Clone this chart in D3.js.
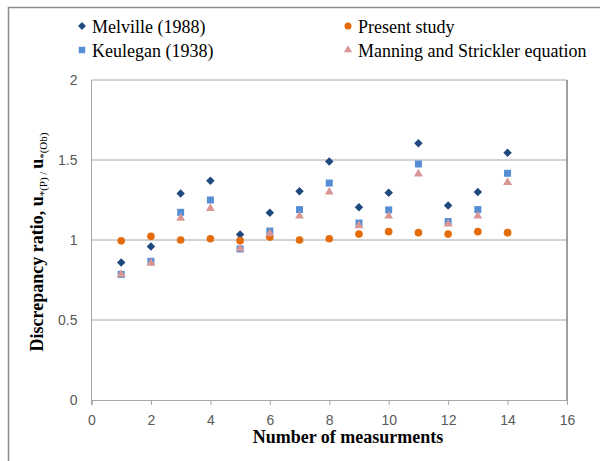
<!DOCTYPE html>
<html>
<head>
<meta charset="utf-8">
<script src="https://cdn.jsdelivr.net/npm/d3@7"></script>
<style>
  body { margin: 0; background: #fff; }
  svg { display: block; }
</style>
</head>
<body>
<svg id="chart" width="600" height="461"></svg>
<script>
// measurement numbers
const measurements = [1, 2, 3, 4, 5, 6, 7, 8, 9, 10, 11, 12, 13, 14];

// discrepancy ratios
const melville  = [0.86, 0.96, 1.29, 1.37, 1.035, 1.17, 1.305, 1.49, 1.205, 1.295, 1.605, 1.215, 1.30, 1.545];
const present   = [0.995, 1.023, 1.0, 1.008, 0.996, 1.018, 1.0, 1.008, 1.037, 1.052, 1.046, 1.037, 1.052, 1.046];
const keulegan  = [0.785, 0.867, 1.173, 1.25, 0.944, 1.056, 1.19, 1.356, 1.106, 1.188, 1.475, 1.115, 1.19, 1.417];
const manning   = [0.785, 0.855, 1.137, 1.198, 0.945, 1.04, 1.15, 1.30, 1.09, 1.15, 1.413, 1.10, 1.15, 1.36];

const xTicks = [0, 2, 4, 6, 8, 10, 12, 14, 16];
const yTicks = [0, 0.5, 1, 1.5, 2];

const diamond = { draw(ctx, size) { const r = Math.sqrt(size / 2); ctx.moveTo(0, -r); ctx.lineTo(r, 0); ctx.lineTo(0, r); ctx.lineTo(-r, 0); ctx.closePath(); } };

const series = [
  { name: "Melville (1988)", values: melville, color: "#1F497D", symbol: diamond, size: 36 },
  { name: "Present study", values: present, color: "#E46C0A", symbol: d3.symbolCircle, size: 46 },
  { name: "Keulegan (1938)", values: keulegan, color: "#558ED5", symbol: d3.symbolSquare, size: 49 },
  { name: "Manning and Strickler equation", values: manning, color: "#D99694", symbol: d3.symbolTriangle, size: 34 }
];

const svg = d3.select("#chart");

// outer frame (cut off at right and bottom like the source)
svg.append("path")
  .attr("d", "M8.5,470 V7.5 H610")
  .attr("fill", "none")
  .attr("stroke", "#8c8c8c")
  .attr("stroke-width", 1.5);

const margin = { left: 91.5, right: 567, top: 80, bottom: 400 };

const x = d3.scaleLinear().domain([0, 16]).range([margin.left, margin.right]);
const y = d3.scaleLinear().domain([0, 2]).range([margin.bottom, margin.top]);

// gridlines
svg.append("g")
  .selectAll("line")
  .data(yTicks.filter(d => d > 0))
  .join("line")
  .attr("x1", margin.left)
  .attr("x2", margin.right)
  .attr("y1", d => y(d))
  .attr("y2", d => y(d))
  .attr("stroke", "#a6a6a6")
  .attr("stroke-width", 1);

// right border of plot area
svg.append("line")
  .attr("x1", margin.right).attr("x2", margin.right)
  .attr("y1", margin.top).attr("y2", margin.bottom)
  .attr("stroke", "#7f7f7f")
  .attr("stroke-width", 1.5);

// axes
const xAxis = svg.append("g")
  .attr("transform", `translate(0,${margin.bottom})`)
  .call(d3.axisBottom(x).tickValues(xTicks).tickSize(5).tickPadding(10));
xAxis.select(".domain").attr("stroke", "#a6a6a6");
xAxis.selectAll(".tick line").attr("stroke", "#a6a6a6");

const yAxis = svg.append("g")
  .attr("transform", `translate(${margin.left},0)`)
  .call(d3.axisLeft(y).tickValues(yTicks).tickSize(0).tickPadding(14).tickFormat(d3.format("")));
yAxis.select(".domain").attr("stroke", "#a6a6a6").attr("d", `M0,${margin.top}V${margin.bottom + 5}`);

[xAxis, yAxis].forEach(a => a.selectAll(".tick text")
  .attr("font-family", "'Liberation Sans', Arial, sans-serif")
  .attr("font-size", "14px")
  .attr("fill", "#595959"));

// points
series.forEach(s => {
  svg.append("g")
    .selectAll("path")
    .data(s.values)
    .join("path")
    .attr("transform", (d, i) => `translate(${x(measurements[i])},${y(d)})`)
    .attr("d", d3.symbol().type(s.symbol).size(s.size))
    .attr("fill", s.color);
});

// legend
const legendPos = [
  { x: 82, y: 26 }, { x: 348, y: 26 },
  { x: 82, y: 50 }, { x: 348, y: 50 }
];
series.forEach((s, i) => {
  const p = legendPos[i];
  svg.append("path")
    .attr("transform", `translate(${p.x},${p.y})`)
    .attr("d", d3.symbol().type(s.symbol).size(s.size * 0.85))
    .attr("fill", s.color);
  svg.append("text")
    .attr("x", p.x + 10)
    .attr("y", p.y + 6.5)
    .attr("font-family", "'Liberation Serif', 'Times New Roman', serif")
    .attr("font-size", "18px")
    .attr("fill", "#000")
    .text(s.name);
});

// x axis title
svg.append("text")
  .attr("x", 348)
  .attr("y", 443)
  .attr("text-anchor", "middle")
  .attr("font-family", "'Liberation Serif', 'Times New Roman', serif")
  .attr("font-weight", "bold")
  .attr("font-size", "18px")
  .text("Number of measurments");

// y axis title
const yTitle = svg.append("text")
  .attr("transform", "translate(43,242) rotate(-90)")
  .attr("text-anchor", "middle")
  .attr("font-family", "'Liberation Serif', 'Times New Roman', serif")
  .attr("font-size", "18px")
  .attr("font-weight", "bold");
yTitle.append("tspan").text("Discrepancy ratio, u");
yTitle.append("tspan").attr("font-size", "11px").attr("font-weight", "normal").attr("dy", 4).text("*(P) / ");
yTitle.append("tspan").attr("dy", -4).text("u");
yTitle.append("tspan").attr("font-size", "11px").attr("font-weight", "normal").attr("dy", 4).text("*(Ob)");
</script>
</body>
</html>
